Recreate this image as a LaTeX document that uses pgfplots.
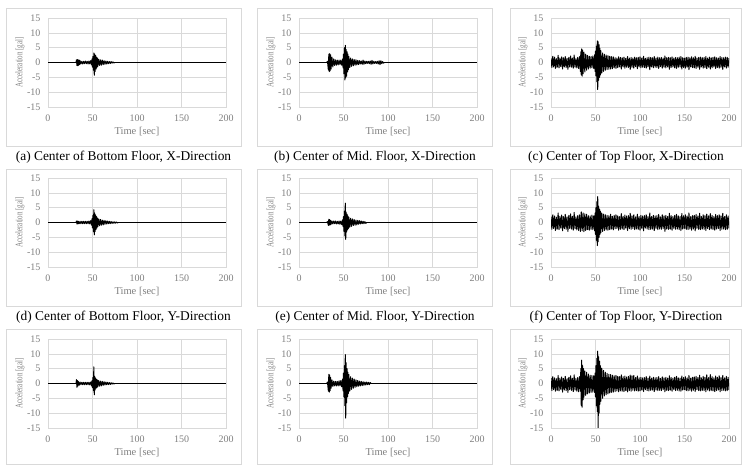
\documentclass[border=0pt]{standalone}
\usepackage{pgfplots}
\pgfplotsset{compat=1.18}
\usepackage{graphicx}
\usepackage{fontspec}
\setmainfont{Liberation Serif}

\definecolor{gridc}{HTML}{D9D9D9}
\definecolor{labc}{HTML}{7F7F7F}
\definecolor{framec}{HTML}{D9D9D9}

\pgfplotsset{
  panel/.style={
    scale only axis, width=178pt, height=89pt,
    xmin=0, xmax=200, ymin=-15, ymax=15,
    xtick={0,50,100,150,200},
    ytick={-15,-10,-5,0,5,10,15},
    yticklabels={-15,-10,-5,0,5,10,15},
    grid=major, major grid style={gridc, line width=0.6pt},
    axis line style={gridc, line width=0.6pt},
    major tick length=0pt,
    /pgf/number format/assume math mode=true,
    tick label style={font=\fontsize{10}{11}\selectfont, text=labc},
    xticklabel style={yshift=-4pt},
    yticklabel style={xshift=-4pt},
    xlabel={Time [sec]},
    ylabel={\scalebox{0.7}[1]{Acceleration [gal]}},
    xlabel style={font=\fontsize{10.5}{11}\selectfont, text=labc,
      at={(axis description cs:0.5,-0.28)}, anchor=center},
    ylabel style={font=\fontsize{10}{11}\selectfont, text=labc,
      at={(axis description cs:-0.157,0.5)}, anchor=center},
  },
  sig/.style={black, line width=1.0pt, line join=round},
  base/.style={black, line width=#1},
}

\begin{document}
\begin{tikzpicture}[x=1pt,y=1pt]
\useasboundingbox (0,0) rectangle (748,470);

% panel frames
\foreach \fx/\fw in {6/241,257/492,510/741}{
  \draw[framec, line width=0.6pt] (\fx,324) rectangle (\fw,462);
  \draw[framec, line width=0.6pt] (\fx,164) rectangle (\fw,301);
  \draw[framec, line width=0.6pt] (\fx,6) rectangle (\fw,141);
}

% captions
\begin{scope}[every node/.style={font=\fontsize{13.4}{15}\selectfont}]
\node at (123.5,313) {(a) Center of Bottom Floor, X-Direction};
\node at (375,313) {(b) Center of Mid.\ Floor, X-Direction};
\node at (626,313) {(c) Center of Top Floor, X-Direction};
\node at (123.5,153) {(d) Center of Bottom Floor, Y-Direction};
\node at (375,153) {(e) Center of Mid.\ Floor, Y-Direction};
\node at (626,153) {(f) Center of Top Floor, Y-Direction};
\end{scope}

% ---------- (a) bottom floor, X ----------
\begin{axis}[panel, at={(48pt,363pt)}, anchor=south west]
\addplot[base=0.8pt] coordinates {(0,0)(200,0)};
\addplot[sig] coordinates {(31.5,0)(32,0.9)(32.5,-1.0)(33,1.0)(33.5,-1.1)(34,0.9)(34.5,-0.9)(35,0.8)(35.5,-0.7)(36,0.6)(37,-0.5)(38,0.4)(39,-0.5)(40,0.4)(41,-0.4)(42,0.5)(43,-0.4)(44,0.4)(45,-0.5)(46,0.5)(47,-0.5)(48,0.6)(49,-0.8)(49.5,1.2)(50,-1.6)(50.5,2.0)(51,-2.6)(51.5,3.2)(52,-4.3)(52.5,2.8)(53,-3.0)(53.5,2.4)(54,-2.2)(54.5,1.8)(55,-1.7)(55.5,1.5)(56,-1.3)(57,1.1)(58,-1.0)(59,0.9)(60,-0.9)(61,0.8)(62,-0.7)(63,0.6)(64,-0.6)(65,0.5)(66,-0.5)(67,0.4)(68,-0.4)(69,0.3)(70,-0.3)(71,0.3)(72,-0.2)(73,0.2)(74,-0.15)(75,0)};
\end{axis}

% ---------- (b) mid floor, X ----------
\begin{axis}[panel, at={(299pt,363pt)}, anchor=south west]
\addplot[base=1.7pt] coordinates {(0,0)(200,0)};
\addplot[sig] coordinates {(31,0)(32,0.4)(33,-2.5)(33.5,2.8)(34,-3.1)(34.5,3.0)(35,-2.8)(35.5,2.6)(36,-2.2)(37,1.8)(38,-1.5)(39,1.2)(40,-1.0)(41,0.9)(42,-0.9)(43,0.8)(44,-0.8)(45,0.8)(46,-0.7)(47,0.8)(48,-0.9)(49,1.2)(49.5,-1.8)(50,2.8)(50.5,-3.8)(51,5.0)(51.5,-5.9)(52,5.8)(52.5,-5.2)(53,4.4)(53.5,-4.6)(54,3.6)(54.5,-3.2)(55,2.8)(55.5,-2.4)(56,2.0)(57,-1.7)(58,1.5)(59,-1.3)(60,1.2)(61,-1.1)(62,1.0)(63,-0.9)(64,0.9)(65,-0.8)(66,0.7)(67,-0.7)(68,0.6)(69,-0.5)(70,0.5)(71,-0.6)(72,0.8)(73,-0.6)(74,0.5)(75,-0.4)(76,0.4)(77,-0.3)(78,0.4)(79,-0.4)(80,0.5)(81,-0.6)(82,0.7)(83,-0.5)(84,0.4)(85,-0.3)(86,0.3)(87,-0.3)(88,0.4)(89,-0.5)(90,0.6)(91,-0.7)(92,0.6)(93,-0.4)(94,0.3)(95,-0.2)(96,0)};
\end{axis}

% ---------- (c) top floor, X ----------
\begin{axis}[panel, at={(551pt,363pt)}, anchor=south west]
\addplot[sig] coordinates {(0,1.4)(1,-1.7)(2,2.1)(3,-1.5)(4,1.8)(5,-2.0)(6,1.3)(7,-1.6)(8,2.4)(9,-1.8)(10,1.5)(11,-1.4)(12,1.9)(13,-2.2)(14,1.6)(15,-1.5)(16,2.0)(17,-1.7)(18,1.4)(19,-2.3)(20,1.7)(21,-1.5)(22,2.2)(23,-1.6)(24,1.5)(25,-1.9)(26,2.5)(27,-1.6)(28,1.3)(29,-1.8)(30,1.7)(31,-2.0)(32,2.0)(33,-3.0)(33.5,3.6)(34,-4.2)(34.5,4.6)(35,-4.6)(35.5,4.2)(36,-3.8)(37,3.5)(38,-3.2)(39,2.8)(40,-2.6)(41,2.4)(42,-2.2)(43,2.1)(44,-1.9)(45,2.0)(46,-1.8)(47,2.2)(48,-2.0)(49,2.6)(49.5,-3.0)(50,3.8)(50.5,-4.5)(51,5.5)(51.5,-6.5)(52,7.3)(52.5,-9.1)(53,7.0)(53.5,-6.0)(54,6.0)(54.5,-5.0)(55,4.8)(55.5,-4.2)(56,4.0)(57,-3.6)(58,3.2)(59,-3.0)(60,2.8)(61,-2.6)(62,2.5)(63,-2.4)(64,2.3)(65,-2.3)(66,2.1)(67,-2.2)(68,2.0)(69,-2.1)(70,1.9)(71,-1.8)(72,1.6)(73,-2.0)(74,1.5)(75,-1.7)(76,1.9)(77,-1.5)(78,1.7)(79,-2.2)(80,1.6)(81,-1.5)(82,1.8)(83,-1.9)(84,1.4)(85,-1.6)(86,2.0)(87,-1.7)(88,1.5)(89,-2.3)(90,1.7)(91,-1.6)(92,1.5)(93,-1.9)(94,1.8)(95,-1.4)(96,1.6)(97,-2.1)(98,1.7)(99,-1.5)(100,1.9)(101,-1.8)(102,1.5)(103,-1.6)(104,2.1)(105,-1.7)(106,1.4)(107,-1.9)(108,1.6)(109,-1.5)(110,1.8)(111,-2.4)(112,1.7)(113,-1.5)(114,1.6)(115,-1.8)(116,2.0)(117,-1.6)(118,1.5)(119,-1.7)(120,1.8)(121,-2.0)(122,1.6)(123,-1.4)(124,1.7)(125,-1.9)(126,1.5)(127,-1.6)(128,2.2)(129,-1.8)(130,1.6)(131,-1.5)(132,1.7)(133,-2.3)(134,1.6)(135,-1.7)(136,1.9)(137,-1.5)(138,1.5)(139,-1.8)(140,1.7)(141,-2.0)(142,1.6)(143,-1.6)(144,1.8)(145,-1.5)(146,2.0)(147,-2.2)(148,1.6)(149,-1.7)(150,1.5)(151,-1.9)(152,1.7)(153,-1.6)(154,1.8)(155,-2.4)(156,1.6)(157,-1.5)(158,1.9)(159,-1.7)(160,1.6)(161,-1.8)(162,2.1)(163,-2.0)(164,1.5)(165,-1.6)(166,1.7)(167,-2.3)(168,1.8)(169,-1.5)(170,1.6)(171,-1.9)(172,1.7)(173,-1.7)(174,2.0)(175,-2.1)(176,1.5)(177,-1.6)(178,1.8)(179,-2.2)(180,1.6)(181,-1.8)(182,1.7)(183,-1.5)(184,1.9)(185,-2.0)(186,1.6)(187,-1.7)(188,1.5)(189,-1.9)(190,2.0)(191,-1.6)(192,1.7)(193,-2.3)(194,1.6)(195,-1.5)(196,1.8)(197,-1.9)(198,1.7)(199,-1.6)(200,1.5)};
\end{axis}

% ---------- (d) bottom floor, Y ----------
\begin{axis}[panel, at={(48pt,203pt)}, anchor=south west]
\addplot[base=0.8pt] coordinates {(0,0)(200,0)};
\addplot[sig] coordinates {(31.5,0)(32,0.5)(32.5,-0.5)(33,0.5)(33.5,-0.5)(34,0.4)(35,-0.4)(36,0.4)(37,-0.4)(38,0.4)(39,-0.4)(40,0.4)(41,-0.4)(42,0.4)(43,-0.4)(44,0.4)(45,-0.4)(46,0.5)(47,-0.5)(48,0.6)(49,-0.9)(49.5,1.3)(50,-1.8)(50.5,2.4)(51,-3.0)(51.5,4.3)(52,-4.2)(52.5,3.2)(53,-3.0)(53.5,2.5)(54,-2.3)(54.5,2.0)(55,-1.8)(55.5,1.5)(56,-1.4)(57,1.2)(58,-1.1)(59,1.0)(60,-0.9)(61,0.8)(62,-0.8)(63,0.7)(64,-0.6)(65,0.6)(66,-0.5)(67,0.5)(68,-0.4)(69,0.4)(70,-0.35)(71,0.3)(72,-0.3)(73,0.25)(74,-0.25)(75,0.2)(76,-0.2)(77,0.15)(78,-0.15)(79,0)};
\end{axis}

% ---------- (e) mid floor, Y ----------
\begin{axis}[panel, at={(299pt,203pt)}, anchor=south west]
\addplot[base=1.7pt] coordinates {(0,0)(200,0)};
\addplot[sig] coordinates {(31,0)(32,0.3)(33,-1.0)(33.5,1.1)(34,-0.9)(34.5,1.0)(35,-0.8)(35.5,0.7)(36,-0.6)(37,0.5)(38,-0.5)(39,0.5)(40,-0.4)(41,0.5)(42,-0.5)(43,0.4)(44,-0.5)(45,0.5)(46,-0.6)(47,0.5)(48,-0.7)(49,0.9)(49.5,-1.4)(50,2.0)(50.5,-3.0)(51,3.8)(51.5,-4.5)(52,6.5)(52.5,-5.7)(53,3.5)(53.5,-3.2)(54,2.8)(54.5,-2.5)(55,2.2)(55.5,-2.0)(56,1.8)(57,-1.6)(58,1.4)(59,-1.3)(60,1.2)(61,-1.0)(62,1.0)(63,-0.9)(64,0.8)(65,-0.8)(66,0.7)(67,-0.6)(68,0.6)(69,-0.5)(70,0.5)(71,-0.4)(72,0.4)(73,-0.4)(74,0.3)(75,-0.3)(76,0)};
\end{axis}

% ---------- (f) top floor, Y ----------
\begin{axis}[panel, at={(551pt,203pt)}, anchor=south west]
\addplot[sig] coordinates {(0,2.0)(1,-2.3)(2,2.6)(3,-2.0)(4,2.2)(5,-2.7)(6,1.8)(7,-2.2)(8,3.2)(9,-2.4)(10,2.1)(11,-1.9)(12,2.5)(13,-2.8)(14,2.0)(15,-2.1)(16,2.7)(17,-2.3)(18,1.9)(19,-3.0)(20,2.4)(21,-2.0)(22,2.9)(23,-2.2)(24,2.1)(25,-2.6)(26,3.4)(27,-2.1)(28,1.9)(29,-2.5)(30,2.3)(31,-2.7)(32,2.6)(33,-3.0)(34,3.6)(35,-2.8)(36,3.2)(37,-3.1)(38,2.9)(39,-2.7)(40,2.8)(41,-2.4)(42,2.3)(43,-2.6)(44,2.2)(45,-2.3)(46,2.5)(47,-2.4)(48,2.2)(49,-2.8)(49.5,3.2)(50,-4.0)(50.5,5.0)(51,-6.0)(51.5,7.0)(52,-7.8)(52.5,8.7)(53,-6.5)(53.5,5.5)(54,-5.0)(54.5,4.5)(55,-4.0)(55.5,3.8)(56,-3.5)(57,3.2)(58,-3.0)(59,2.8)(60,-2.7)(61,2.6)(62,-2.5)(63,2.4)(64,-2.6)(65,2.3)(66,-2.4)(67,2.8)(68,-2.2)(69,2.1)(70,-2.5)(71,2.4)(72,-2.1)(73,2.6)(74,-2.0)(75,2.2)(76,-2.6)(77,2.0)(78,-2.3)(79,3.0)(80,-2.2)(81,2.1)(82,-2.4)(83,2.5)(84,-1.9)(85,2.2)(86,-2.7)(87,2.3)(88,-2.1)(89,3.1)(90,-2.3)(91,2.2)(92,-2.0)(93,2.6)(94,-2.4)(95,1.9)(96,-2.2)(97,2.8)(98,-2.3)(99,2.0)(100,-2.6)(101,2.4)(102,-2.0)(103,2.2)(104,-2.8)(105,2.3)(106,-1.9)(107,2.6)(108,-2.2)(109,2.0)(110,-2.4)(111,3.2)(112,-2.3)(113,2.0)(114,-2.2)(115,2.4)(116,-2.7)(117,2.2)(118,-2.0)(119,2.3)(120,-2.4)(121,2.7)(122,-2.2)(123,1.9)(124,-2.3)(125,2.6)(126,-2.0)(127,2.2)(128,-3.0)(129,2.4)(130,-2.2)(131,2.0)(132,-2.3)(133,3.1)(134,-2.2)(135,2.3)(136,-2.6)(137,2.0)(138,-2.0)(139,2.4)(140,-2.3)(141,2.7)(142,-2.2)(143,2.2)(144,-2.4)(145,2.0)(146,-2.7)(147,3.0)(148,-2.2)(149,2.3)(150,-2.0)(151,2.6)(152,-2.3)(153,2.2)(154,-2.4)(155,3.2)(156,-2.2)(157,2.0)(158,-2.6)(159,2.3)(160,-2.2)(161,2.4)(162,-2.8)(163,2.7)(164,-2.0)(165,2.2)(166,-2.3)(167,3.1)(168,-2.4)(169,2.0)(170,-2.2)(171,2.6)(172,-2.3)(173,2.3)(174,-2.7)(175,2.8)(176,-2.0)(177,2.2)(178,-2.4)(179,3.0)(180,-2.2)(181,2.4)(182,-2.3)(183,2.0)(184,-2.6)(185,2.7)(186,-2.2)(187,2.3)(188,-2.0)(189,2.6)(190,-2.7)(191,2.2)(192,-2.3)(193,3.1)(194,-2.2)(195,2.0)(196,-2.4)(197,2.6)(198,-2.3)(199,2.2)(200,-2.0)};
\end{axis}

% ---------- (g) bottom floor, third component ----------
\begin{axis}[panel, at={(48pt,42pt)}, anchor=south west]
\addplot[base=0.8pt] coordinates {(0,0)(200,0)};
\addplot[sig] coordinates {(31.5,0)(32,1.3)(32.5,-1.3)(33,1.0)(33.5,-0.9)(34,0.7)(35,-0.6)(36,0.5)(37,-0.4)(38,0.4)(39,-0.4)(40,0.4)(41,-0.4)(42,0.4)(43,-0.4)(44,0.4)(45,-0.4)(46,0.4)(47,-0.5)(48,0.5)(49,-0.8)(49.5,1.0)(50,-1.4)(50.5,2.0)(51,-2.4)(51.5,5.6)(52,-3.8)(52.5,2.4)(53,-2.2)(53.5,1.8)(54,-1.6)(54.5,1.4)(55,-1.3)(55.5,1.2)(56,-1.1)(57,1.0)(58,-0.9)(59,0.8)(60,-0.8)(61,0.7)(62,-0.6)(63,0.6)(64,-0.5)(65,0.5)(66,-0.4)(67,0.4)(68,-0.35)(69,0.3)(70,-0.3)(71,0.25)(72,-0.2)(73,0.2)(74,-0.15)(75,0)};
\end{axis}

% ---------- (h) mid floor, third component ----------
\begin{axis}[panel, at={(299pt,42pt)}, anchor=south west]
\addplot[base=1.7pt] coordinates {(0,0)(200,0)};
\addplot[sig] coordinates {(31,0)(32,0.5)(33,-2.6)(33.5,3.1)(34,-2.9)(34.5,2.8)(35,-2.4)(35.5,2.0)(36,-1.6)(37,1.2)(38,-1.0)(39,0.8)(40,-0.8)(41,0.7)(42,-0.8)(43,0.7)(44,-0.8)(45,0.9)(46,-0.8)(47,1.0)(48,-1.1)(49,1.5)(49.5,-2.5)(50,3.5)(50.5,-4.5)(51,6.0)(51.5,-7.5)(52,9.7)(52.5,-11.7)(53,7.0)(53.5,-6.5)(54,5.0)(54.5,-4.5)(55,3.8)(55.5,-3.4)(56,3.0)(57,-2.6)(58,2.3)(59,-2.0)(60,1.8)(61,-1.6)(62,1.5)(63,-1.3)(64,1.2)(65,-1.1)(66,1.0)(67,-0.9)(68,0.8)(69,-0.8)(70,0.7)(71,-0.7)(72,0.6)(73,-0.6)(74,0.5)(75,-0.5)(76,0.5)(77,-0.4)(78,0.4)(79,-0.4)(80,0.3)(81,0)};
\end{axis}

% ---------- (i) top floor, third component ----------
\begin{axis}[panel, at={(551pt,42pt)}, anchor=south west]
\addplot[sig] coordinates {(0,1.8)(1,-2.4)(2,2.3)(3,-2.1)(4,1.9)(5,-2.6)(6,1.6)(7,-2.3)(8,2.7)(9,-2.5)(10,1.8)(11,-2.0)(12,2.2)(13,-2.9)(14,1.7)(15,-2.2)(16,2.4)(17,-2.4)(18,1.6)(19,-3.0)(20,2.1)(21,-2.1)(22,2.6)(23,-2.3)(24,1.8)(25,-2.7)(26,2.9)(27,-2.2)(28,1.7)(29,-2.6)(30,2.0)(31,-2.8)(32,2.3)(33,-2.6)(33.5,5.0)(34,-7.5)(34.5,7.9)(35,-8.0)(35.5,6.0)(36,-5.5)(36.5,5.0)(37,-4.6)(38,4.2)(39,-4.0)(40,3.8)(41,-3.5)(42,3.2)(43,-3.2)(44,2.8)(45,-3.0)(46,2.7)(47,-2.9)(48,2.6)(49,-3.0)(49.5,3.5)(50,-4.5)(50.5,6.0)(51,-7.5)(51.5,8.5)(52,-9.5)(52.5,10.9)(53,-15.0)(53.5,9.0)(54,-10.0)(54.5,7.5)(55,-7.0)(55.5,6.0)(56,-6.0)(57,5.2)(58,-5.0)(59,4.4)(60,-4.2)(61,3.8)(62,-3.8)(63,3.4)(64,-3.5)(65,3.1)(66,-3.2)(67,3.0)(68,-3.0)(69,2.8)(70,-2.9)(71,2.6)(72,-2.7)(73,2.7)(74,-2.5)(75,2.4)(76,-2.8)(77,2.3)(78,-2.5)(79,2.9)(80,-2.6)(81,2.3)(82,-2.7)(83,2.5)(84,-2.4)(85,2.2)(86,-2.8)(87,2.4)(88,-2.4)(89,2.8)(90,-2.6)(91,2.6)(92,-2.3)(93,2.7)(94,-2.5)(95,2.0)(96,-2.4)(97,2.5)(98,-2.6)(99,1.9)(100,-2.5)(101,2.1)(102,-2.2)(103,1.9)(104,-2.7)(105,2.0)(106,-2.1)(107,2.3)(108,-2.4)(109,1.8)(110,-2.5)(111,2.5)(112,-2.3)(113,1.8)(114,-2.2)(115,2.1)(116,-2.7)(117,1.9)(118,-2.2)(119,2.0)(120,-2.4)(121,2.3)(122,-2.3)(123,1.7)(124,-2.4)(125,2.2)(126,-2.1)(127,1.9)(128,-2.8)(129,2.1)(130,-2.3)(131,1.8)(132,-2.4)(133,2.6)(134,-2.2)(135,2.0)(136,-2.6)(137,1.8)(138,-2.1)(139,2.1)(140,-2.4)(141,2.4)(142,-2.3)(143,1.9)(144,-2.5)(145,1.8)(146,-2.6)(147,2.5)(148,-2.2)(149,2.0)(150,-2.1)(151,2.3)(152,-2.4)(153,1.9)(154,-2.5)(155,2.7)(156,-2.3)(157,1.8)(158,-2.6)(159,2.1)(160,-2.3)(161,2.2)(162,-2.7)(163,2.4)(164,-2.1)(165,2.0)(166,-2.4)(167,2.8)(168,-2.5)(169,1.9)(170,-2.3)(171,2.4)(172,-2.4)(173,2.1)(174,-2.8)(175,2.9)(176,-2.2)(177,2.0)(178,-2.5)(179,3.0)(180,-2.4)(181,2.3)(182,-2.5)(183,1.9)(184,-2.7)(185,2.5)(186,-2.4)(187,2.1)(188,-2.2)(189,2.6)(190,-2.8)(191,2.0)(192,-2.4)(193,2.7)(194,-2.3)(195,1.9)(196,-2.5)(197,2.4)(198,-2.4)(199,2.1)(200,-2.2)};
\end{axis}

\end{tikzpicture}
\end{document}
